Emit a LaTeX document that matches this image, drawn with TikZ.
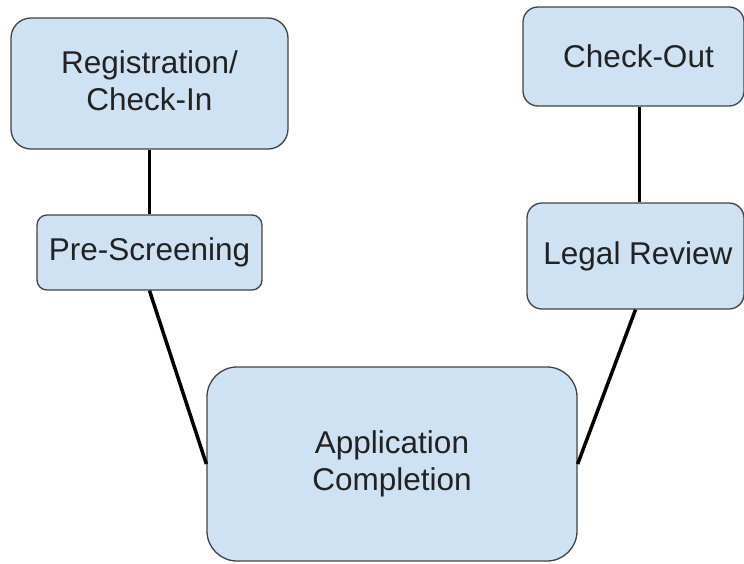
\documentclass[tikz,border=0pt]{standalone}
\usepackage{fontspec}
\setmainfont{Liberation Sans}
\definecolor{boxfill}{HTML}{CFE2F3}
\definecolor{boxline}{HTML}{434343}
\definecolor{txt}{HTML}{222222}
\tikzset{
  stagebox/.style={draw=boxline, line width=1.3pt, fill=boxfill, rectangle, inner sep=0pt,
    align=center, text=txt, font=\fontsize{31.5}{37}\selectfont},
  link/.style={line width=3.5pt, black}
}
\begin{document}
\begin{tikzpicture}[x=1pt,y=-1pt]
\useasboundingbox (0,0) rectangle (744,563);
\clip (0,0) rectangle (744,563);
\node[stagebox, rounded corners=20pt, minimum width=277pt, minimum height=131pt] (reg) at (149.5,83.5) {Registration/\\Check-In\\[-31pt]\mbox{}};
\node[stagebox, rounded corners=10pt, minimum width=225pt, minimum height=75pt] (pre) at (149.5,252.5) {Pre-Screening};
\node[stagebox, rounded corners=15pt, minimum width=221pt, minimum height=99pt] (out) at (633.5,56.5) {\hspace*{10pt}Check-Out};
\node[stagebox, rounded corners=15pt, minimum width=217pt, minimum height=106pt] (legal) at (635.5,256) {\hspace*{5pt}Legal Review};
\node[stagebox, rounded corners=30pt, minimum width=370pt, minimum height=194pt] (app) at (392,464) {Application\\Completion};
\draw[link] (reg.south) -- (pre.north);
\draw[link] (pre.south) -- (app.west);
\coordinate (outs) at ([xshift=6pt]out.south);
\draw[link] (outs) -- (outs |- legal.north);
\draw[link] (legal.south) -- (app.east);
\end{tikzpicture}
\end{document}
